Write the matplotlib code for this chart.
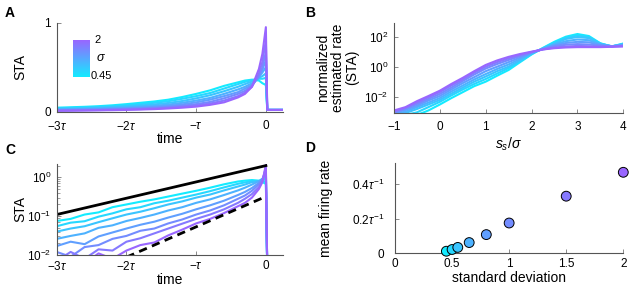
import numpy as np
import matplotlib
matplotlib.use("Agg")
import matplotlib.pyplot as plt

plt.rcParams["font.family"] = "Liberation Sans"
plt.rcParams["mathtext.fontset"] = "custom"
plt.rcParams["mathtext.rm"] = "Liberation Sans"
plt.rcParams["mathtext.it"] = "Liberation Sans:italic"
plt.rcParams["mathtext.bf"] = "Liberation Sans:bold"

# stimulus standard deviations (one curve each)
sigmas = [0.45, 0.5, 0.55, 0.65, 0.8, 1.0, 1.5, 2.0]

# time axis (units of tau) shared by panels A and C
t_sta = [-3.0, -2.8, -2.6, -2.4, -2.2, -2.0, -1.8, -1.6, -1.4, -1.2, -1.0,
         -0.8, -0.6, -0.4, -0.3, -0.2, -0.1, -0.05, 0.0, 0.02, 0.25]

# panel A: STA, linear scale
sta_lin = [
    [0.045, 0.05, 0.055, 0.062, 0.072, 0.085, 0.10, 0.115, 0.135, 0.165, 0.20,
     0.24, 0.29, 0.33, 0.35, 0.36, 0.35, 0.32, 0.30, 0.02, 0.02],
    [0.038, 0.042, 0.047, 0.053, 0.062, 0.072, 0.085, 0.10, 0.118, 0.145, 0.175,
     0.21, 0.26, 0.31, 0.335, 0.355, 0.37, 0.37, 0.38, 0.02, 0.02],
    [0.032, 0.035, 0.039, 0.045, 0.052, 0.06, 0.07, 0.082, 0.098, 0.12, 0.15,
     0.185, 0.23, 0.28, 0.31, 0.34, 0.38, 0.40, 0.43, 0.02, 0.02],
    [0.025, 0.028, 0.031, 0.036, 0.042, 0.048, 0.056, 0.066, 0.08, 0.10, 0.125,
     0.155, 0.20, 0.25, 0.28, 0.32, 0.39, 0.44, 0.50, 0.02, 0.02],
    [0.02, 0.022, 0.025, 0.028, 0.033, 0.038, 0.045, 0.053, 0.065, 0.082, 0.105,
     0.135, 0.175, 0.22, 0.26, 0.30, 0.39, 0.47, 0.58, 0.02, 0.02],
    [0.016, 0.018, 0.02, 0.023, 0.027, 0.031, 0.036, 0.043, 0.053, 0.067, 0.085,
     0.11, 0.15, 0.20, 0.235, 0.29, 0.40, 0.50, 0.67, 0.02, 0.02],
    [0.012, 0.014, 0.016, 0.018, 0.021, 0.025, 0.029, 0.035, 0.043, 0.055, 0.07,
     0.092, 0.125, 0.175, 0.215, 0.28, 0.43, 0.56, 0.80, 0.02, 0.02],
    [0.01, 0.011, 0.013, 0.015, 0.017, 0.02, 0.024, 0.029, 0.036, 0.045, 0.057,
     0.077, 0.105, 0.16, 0.20, 0.28, 0.48, 0.65, 0.95, 0.02, 0.02],
]

# panel C: STA, log scale
sta_log = [
    [0.075, 0.085, 0.11, 0.125, 0.17, 0.20, 0.235, 0.27, 0.32, 0.38, 0.45,
     0.54, 0.66, 0.78, 0.82, 0.85, 0.82, 0.75, 0.68, 0.004, 0.004],
    [0.055, 0.068, 0.074, 0.097, 0.118, 0.15, 0.17, 0.215, 0.25, 0.30, 0.36,
     0.44, 0.55, 0.68, 0.74, 0.80, 0.80, 0.78, 0.80, 0.004, 0.004],
    [0.04, 0.048, 0.055, 0.07, 0.088, 0.11, 0.13, 0.16, 0.20, 0.24, 0.30,
     0.36, 0.46, 0.58, 0.65, 0.75, 0.80, 0.85, 0.95, 0.004, 0.004],
    [0.026, 0.031, 0.036, 0.05, 0.058, 0.075, 0.09, 0.11, 0.14, 0.17, 0.22,
     0.27, 0.35, 0.46, 0.54, 0.65, 0.80, 0.92, 1.15, 0.004, 0.004],
    [0.017, 0.022, 0.019, 0.03, 0.038, 0.048, 0.06, 0.072, 0.092, 0.115, 0.15,
     0.19, 0.25, 0.35, 0.42, 0.53, 0.72, 0.90, 1.35, 0.004, 0.004],
    [0.012, 0.009, 0.016, 0.018, 0.026, 0.031, 0.042, 0.048, 0.065, 0.082, 0.11,
     0.14, 0.19, 0.28, 0.34, 0.45, 0.66, 0.86, 1.6, 0.004, 0.004],
    [0.007, 0.012, 0.008, 0.014, 0.013, 0.022, 0.027, 0.036, 0.048, 0.064, 0.085,
     0.11, 0.15, 0.22, 0.28, 0.37, 0.56, 0.80, 1.85, 0.004, 0.004],
    [0.005, 0.009, 0.006, 0.011, 0.008, 0.013, 0.018, 0.021, 0.032, 0.045, 0.065,
     0.085, 0.12, 0.18, 0.22, 0.30, 0.50, 0.75, 2.1, 0.004, 0.004],
]

# reference lines in panel C
solid_t = [-3.0, 0.0]
solid_y = [0.11, 2.0]
dashed_t = [-2.0, 0.0]
dashed_y = [0.0088, 0.32]

# panel B: normalized estimated rate vs s_s / sigma
s_norm = [-1.0, -0.75, -0.5, -0.25, 0.0, 0.25, 0.5, 0.75, 1.0, 1.25, 1.5,
          1.75, 2.0, 2.25, 2.5, 2.75, 3.0, 3.25, 3.5, 3.75, 4.0]
rate_norm = [
    [5e-4, 5e-4, 6e-4, 1.2e-3, 3e-3, 8e-3, 2e-2, 5e-2, 0.1, 0.25, 0.6,
     2.0, 6.5, 18, 46, 100, 150, 110, 36, 22, 35],
    [5e-4, 6e-4, 9e-4, 2e-3, 4.5e-3, 1.2e-2, 3e-2, 7e-2, 0.15, 0.35, 0.8,
     2.3, 7, 17, 40, 85, 120, 95, 35, 22, 33],
    [6e-4, 8e-4, 1.5e-3, 3e-3, 6e-3, 1.6e-2, 4e-2, 0.1, 0.22, 0.5, 1.0,
     2.6, 7.5, 16, 35, 70, 95, 80, 33, 23, 31],
    [7e-4, 1e-3, 2e-3, 4e-3, 8e-3, 2.2e-2, 5.5e-2, 0.14, 0.32, 0.7, 1.4,
     3.2, 8, 16, 30, 50, 65, 58, 30, 23, 29],
    [8e-4, 1.3e-3, 2.5e-3, 5.5e-3, 1.1e-2, 3e-2, 8e-2, 0.2, 0.5, 1.0, 2.0,
     4, 8.5, 15, 26, 38, 45, 42, 28, 23, 27],
    [9e-4, 1.6e-3, 3.2e-3, 7e-3, 1.5e-2, 4e-2, 0.11, 0.3, 0.75, 1.5, 2.8,
     5, 9, 15, 23, 29, 32, 30, 25, 23, 25],
    [1e-3, 1.8e-3, 4e-3, 9e-3, 2e-2, 5.5e-2, 0.14, 0.4, 1.0, 2.0, 3.6,
     6, 9.5, 14, 19, 22, 24, 23, 22, 22, 24],
    [1.2e-3, 2e-3, 5e-3, 1.1e-2, 2.5e-2, 7e-2, 0.18, 0.5, 1.3, 2.6, 4.5,
     7, 10, 14, 17, 19, 20, 20, 20, 21, 22],
]

# panel D: mean firing rate (units of 1/tau)
firing_rate = [0.012, 0.022, 0.034, 0.062, 0.108, 0.175, 0.33, 0.468]

cmap = plt.get_cmap("cool")
colors = [cmap(v) for v in np.linspace(0.08, 0.6, len(sigmas))]


def style(ax, xpad=6, ypad=4):
    for s in ["top", "right"]:
        ax.spines[s].set_visible(False)
    for s in ["left", "bottom"]:
        ax.spines[s].set_color("#555555")
        ax.spines[s].set_linewidth(0.8)
    ax.tick_params(which="both", direction="in", colors="#777777",
                   labelcolor="black", labelsize=8.5)
    ax.tick_params(axis="x", pad=xpad)
    ax.tick_params(axis="y", pad=ypad)
    ax.tick_params(which="major", length=3, width=0.6)
    ax.tick_params(which="minor", length=1.8, width=0.5)


W, H = 636, 289
fig = plt.figure(figsize=(W / 100, H / 100), dpi=100)


def axes_px(x0, y0, x1, y1):
    return fig.add_axes([x0 / W, 1 - y1 / H, (x1 - x0) / W, (y1 - y0) / H])


time_ticks = [-3, -2, -1, 0]
time_labels = [r"$-3\tau$", r"$-2\tau$", r"$-\tau$", "0"]

# ---- A
axA = axes_px(56.7, 22.7, 283.3, 111.7)
for y, c in zip(sta_lin, colors):
    axA.plot(t_sta, y, color=c, lw=1.5)
axA.set_xlim(-3, 0.25)
axA.set_ylim(0, 1)
axA.set_xticks(time_ticks, time_labels)
axA.set_yticks([0, 1], ["0", "1"])
axA.set_ylabel("STA", fontsize=10)
axA.set_xlabel("time", fontsize=10)
axA.yaxis.set_label_coords(-0.13, 0.5)
axA.xaxis.set_label_coords(0.5, -0.23)
style(axA)

cb = axes_px(73.3, 40, 90, 76.7)
cb.imshow(np.linspace(0.6, 0.08, 100)[:, None], cmap=cmap, vmin=0, vmax=1,
          aspect="auto")
cb.axis("off")
fig.text(94 / W, 1 - 40 / H, "2", fontsize=8, va="center")
fig.text(96 / W, 1 - 58 / H, r"$\sigma$", fontsize=9, va="center")
fig.text(91 / W, 1 - 76 / H, "0.45", fontsize=8, va="center")

# ---- B
axB = axes_px(394, 22.7, 623.3, 112.7)
for y, c in zip(rate_norm, colors):
    axB.plot(s_norm, y, color=c, lw=1.5)
axB.set_yscale("log")
axB.set_xlim(-1, 4)
axB.set_ylim(10 ** -3.07, 10 ** 2.93)
axB.set_yticks([1e-2, 1, 1e2])
axB.yaxis.set_minor_locator(matplotlib.ticker.NullLocator())
axB.set_xticks([-1, 0, 1, 2, 3, 4])
axB.set_ylabel("normalized\nestimated rate\n(STA)", fontsize=10, linespacing=1.05)
axB.yaxis.set_label_coords(-0.15, 0.5)
axB.set_xlabel(r"$s_s/\sigma$", fontsize=10)
axB.xaxis.set_label_coords(0.5, -0.25)
style(axB)

# ---- C
axC = axes_px(56.7, 164, 283.3, 255)
for y, c in zip(sta_log, colors):
    axC.plot(t_sta, y, color=c, lw=1.5)
axC.plot(solid_t, solid_y, color="black", lw=2)
axC.plot(dashed_t, dashed_y, color="black", lw=2, dashes=(3, 2))
axC.set_yscale("log")
axC.set_xlim(-3, 0.25)
axC.set_ylim(0.01, 2.2)
axC.set_xticks(time_ticks, time_labels)
axC.set_yticks([0.01, 0.1, 1])
axC.set_ylabel("STA", fontsize=10)
axC.set_xlabel("time", fontsize=10)
axC.yaxis.set_label_coords(-0.13, 0.5)
axC.xaxis.set_label_coords(0.5, -0.2)
style(axC, xpad=3.5)

# ---- D
axD = axes_px(395, 163.3, 623.3, 253.3)
axD.scatter(sigmas, firing_rate, s=50, c=colors, edgecolors="black",
            linewidths=0.7, zorder=3, clip_on=False)
axD.set_xlim(0, 2)
axD.set_ylim(0, 0.52)
axD.set_xticks([0, 0.5, 1, 1.5, 2], ["0", "0.5", "1", "1.5", "2"])
axD.set_yticks([0, 0.2, 0.4], ["0", r"$0.2\tau^{-1}$", r"$0.4\tau^{-1}$"])
axD.set_ylabel("mean firing rate", fontsize=10)
axD.set_xlabel("standard deviation", fontsize=10)
axD.yaxis.set_label_coords(-0.27, 0.5)
axD.xaxis.set_label_coords(0.5, -0.2)
style(axD, xpad=3.5, ypad=8)

# panel letters
for x, y, s in [(5, 13, "A"), (305, 13, "B"), (5, 150, "C"), (305, 148, "D")]:
    fig.text(x / W, 1 - y / H, s, fontsize=10, fontweight="bold", va="center")

fig.savefig("out.png", dpi=100)
